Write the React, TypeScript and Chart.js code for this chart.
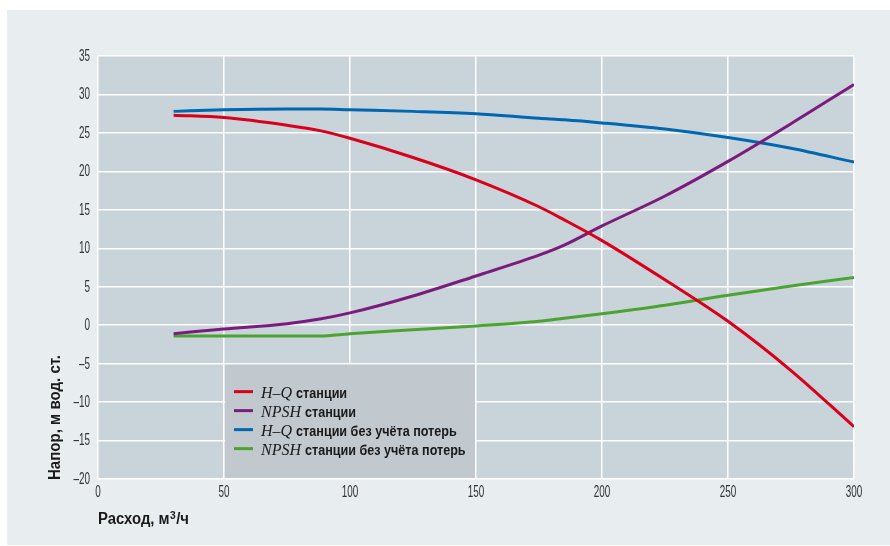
import { useEffect, useRef } from "react";
import { Chart, registerables } from "chart.js";

Chart.register(...registerables);

// ---- data ----
const flow = [30, 50, 75, 88, 100, 125, 150, 175, 185, 200, 225, 250, 275, 300];
const hqStation = [27.3, 27.0, 26.0, 25.3, 24.3, 21.8, 18.9, 15.4, 13.7, 11.0, 5.9, 0.5, -5.9, -13.2];
const npshStation = [-1.1, -0.5, 0.2, 0.8, 1.6, 3.8, 6.4, 9.1, 10.4, 12.9, 16.8, 21.3, 26.2, 31.3];
const hqNoLoss = [27.8, 28.0, 28.1, 28.1, 28.0, 27.8, 27.5, 26.9, 26.7, 26.3, 25.5, 24.4, 23.0, 21.2];
const npshNoLoss = [-1.4, -1.4, -1.4, -1.4, -1.1, -0.6, -0.1, 0.5, 0.9, 1.5, 2.6, 3.9, 5.1, 6.2];

const seriesItalic = ["H–Q", "NPSH", "H–Q", "NPSH"];
const seriesText = ["станции", "станции", "станции без учёта потерь", "станции без учёта потерь"];
const seriesValues = [hqStation, npshStation, hqNoLoss, npshNoLoss];

const xTitleParts = ["Расход, м", "3", "/ч"]; // "Расход, м³/ч"
const yTitle = "Напор, м вод. ст.";

// ---- style ----
const colors = ["#d9001b", "#7b1c7d", "#0067b1", "#4ba430"];
const SANS = "'Liberation Sans', Arial, sans-serif";
const PLOT_BG = "#c9d3da";
const LEGEND_BG = "#c1c8ce";
const LEGEND_BOUNDS = { x0: 50, x1: 150, y0: -5, y1: -20 };

function drawCondensed(ctx: CanvasRenderingContext2D, text: string, x: number, y: number, sx: number, align: CanvasTextAlign, rot = 0) {
  ctx.save();
  ctx.translate(x, y);
  if (rot) ctx.rotate(rot);
  ctx.scale(sx, 1);
  ctx.textAlign = align;
  ctx.fillText(text, 0, 0);
  ctx.restore();
}

const fmtTick = (v: number) => (v < 0 ? "–" + Math.abs(v) : String(v));

const bgPlugin = {
  id: "plotBg",
  beforeDraw(chart: any) {
    const { ctx, chartArea } = chart;
    ctx.save();
    ctx.fillStyle = PLOT_BG;
    ctx.fillRect(chartArea.left, chartArea.top, chartArea.right - chartArea.left, chartArea.bottom - chartArea.top);
    ctx.restore();
  },
};

const axisTextPlugin = {
  id: "axisText",
  afterDraw(chart: any) {
    const { ctx, chartArea } = chart;
    const xs = chart.scales.x;
    const ys = chart.scales.y;
    ctx.save();
    ctx.fillStyle = "#333";
    ctx.font = `16px ${SANS}`;
    const sx = 11 / ctx.measureText("35").width;
    ctx.textBaseline = "middle";
    ys.ticks.forEach((t: any) => {
      drawCondensed(ctx, fmtTick(t.value), chartArea.left - 8, ys.getPixelForValue(t.value) + 0.5, sx, "right");
    });
    xs.ticks.forEach((t: any) => {
      drawCondensed(ctx, fmtTick(t.value), xs.getPixelForValue(t.value), chartArea.bottom + 14, sx, "center");
    });

    // x title with superscript
    ctx.fillStyle = "#1a1a1a";
    ctx.textBaseline = "alphabetic";
    const big = `bold 16px ${SANS}`;
    const small = `bold 11px ${SANS}`;
    ctx.font = big;
    const w0 = ctx.measureText(xTitleParts[0]).width;
    const w2 = ctx.measureText(xTitleParts[2]).width;
    ctx.font = small;
    const w1 = ctx.measureText(xTitleParts[1]).width;
    const sxX = 91 / (w0 + w1 + w2 + 1);
    const bx = chartArea.left;
    const by = chartArea.bottom + 45;
    ctx.font = big;
    drawCondensed(ctx, xTitleParts[0], bx, by, sxX, "left");
    ctx.font = small;
    drawCondensed(ctx, xTitleParts[1], bx + (w0 + 0.5) * sxX, by - 5, sxX, "left");
    ctx.font = big;
    drawCondensed(ctx, xTitleParts[2], bx + (w0 + w1 + 1) * sxX, by, sxX, "left");

    ctx.font = big;
    const sxY = 125 / ctx.measureText(yTitle).width;
    drawCondensed(ctx, yTitle, 53, chartArea.bottom + 1, sxY, "left", -Math.PI / 2);
    ctx.restore();
  },
};

const legendPlugin = {
  id: "customLegend",
  beforeDatasetsDraw(chart: any) {
    const { ctx } = chart;
    const xs = chart.scales.x;
    const ys = chart.scales.y;
    const l = xs.getPixelForValue(LEGEND_BOUNDS.x0) + 1;
    const r = xs.getPixelForValue(LEGEND_BOUNDS.x1) - 1;
    const t = ys.getPixelForValue(LEGEND_BOUNDS.y0) + 1;
    const b = ys.getPixelForValue(LEGEND_BOUNDS.y1) - 1;
    ctx.save();
    ctx.fillStyle = LEGEND_BG;
    ctx.fillRect(l, t, r - l, b - t);
    ctx.restore();
  },
  afterDatasetsDraw(chart: any) {
    const { ctx } = chart;
    const xs = chart.scales.x;
    const ys = chart.scales.y;
    const l = xs.getPixelForValue(LEGEND_BOUNDS.x0);
    const t = ys.getPixelForValue(LEGEND_BOUNDS.y0);
    ctx.save();
    ctx.font = `bold 14px ${SANS}`;
    const sx = 51 / ctx.measureText("станции").width;
    chart.data.datasets.forEach((ds: any, i: number) => {
      const y = t + 28 + i * 19;
      ctx.strokeStyle = ds.borderColor;
      ctx.lineWidth = 3;
      ctx.beginPath();
      ctx.moveTo(l + 10, y);
      ctx.lineTo(l + 29, y);
      ctx.stroke();
      ctx.fillStyle = "#1a1a1a";
      ctx.textBaseline = "alphabetic";
      ctx.textAlign = "left";
      ctx.font = "italic 16px 'Liberation Serif', 'DejaVu Serif', serif";
      const it = seriesItalic[i];
      ctx.fillText(it, l + 37, y + 6);
      const w = ctx.measureText(it).width;
      ctx.font = `bold 14px ${SANS}`;
      drawCondensed(ctx, seriesText[i], l + 37 + w + 4, y + 6, sx, "left");
    });
    ctx.restore();
  },
};

export default function App() {
  const ref = useRef<HTMLCanvasElement>(null);

  useEffect(() => {
    if (!ref.current) return;
    const chart = new Chart(ref.current, {
      type: "line",
      data: {
        datasets: seriesValues.map((vals, i) => ({
          label: seriesItalic[i] + " " + seriesText[i],
          data: flow.map((q, k) => ({ x: q, y: vals[k] })),
          borderColor: colors[i],
          backgroundColor: colors[i],
          borderWidth: 3,
          pointRadius: 0,
          tension: 0.4,
          cubicInterpolationMode: "monotone" as const,
          fill: false,
        })),
      },
      options: {
        animation: false,
        responsive: false,
        layout: { padding: { top: 46, right: 36, left: 0, bottom: 0 } },
        plugins: {
          legend: { display: false },
          tooltip: { enabled: false },
        },
        scales: {
          x: {
            type: "linear",
            min: 0,
            max: 300,
            ticks: { stepSize: 50, display: false },
            grid: { color: "#ffffff", lineWidth: 1.5, drawTicks: false },
            border: { display: false },
            afterFit(scale: any) {
              scale.height = 66;
            },
          },
          y: {
            min: -20,
            max: 35,
            ticks: { stepSize: 5, display: false },
            grid: { color: "#ffffff", lineWidth: 1.5, drawTicks: false },
            border: { display: false },
            afterFit(scale: any) {
              scale.width = 91;
            },
          },
        },
      },
      plugins: [bgPlugin, legendPlugin, axisTextPlugin],
    });
    return () => chart.destroy();
  }, []);

  return (
    <div style={{ position: "absolute", left: 7, top: 10, width: 883, height: 535, background: "#e8edf0" }}>
      <canvas ref={ref} width={883} height={535} style={{ display: "block" }} />
    </div>
  );
}
